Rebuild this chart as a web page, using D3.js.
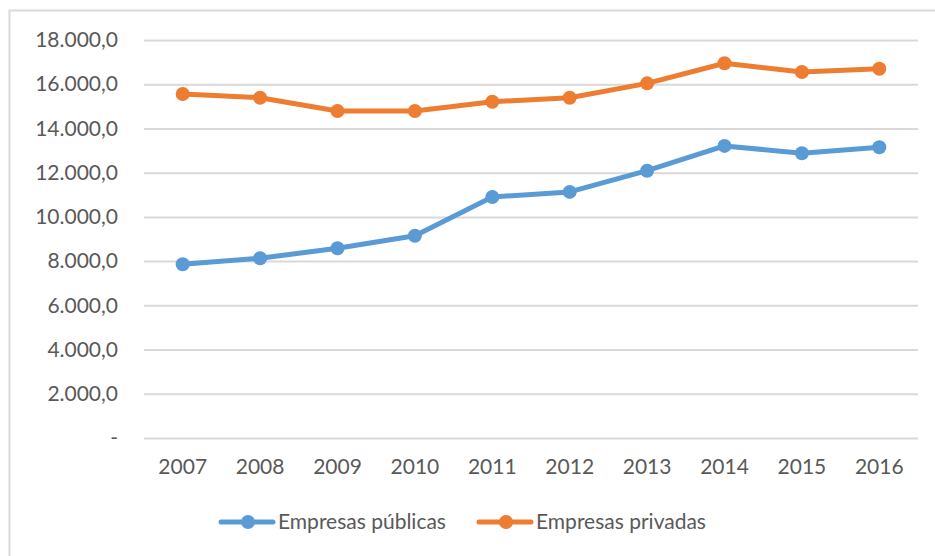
<!DOCTYPE html>
<html>
<head>
<meta charset="utf-8">
<script src="https://cdn.jsdelivr.net/npm/d3@7"></script>
<style>
  html, body { margin: 0; padding: 0; background: #fff; }
  svg { display: block; font-family: Lato, "Open Sans", sans-serif; }
</style>
</head>
<body>
<div id="chart"></div>
<script>
const years = ["2007", "2008", "2009", "2010", "2011", "2012", "2013", "2014", "2015", "2016"];
const publicas = [7860, 8130, 8580, 9150, 10900, 11130, 12090, 13210, 12880, 13150];
const privadas = [15560, 15390, 14790, 14790, 15210, 15390, 16040, 16950, 16550, 16700];
const yTicks = [0, 2000, 4000, 6000, 8000, 10000, 12000, 14000, 16000, 18000];
const seriesNames = ["Empresas públicas", "Empresas privadas"];
const seriesColors = ["#5B9BD5", "#ED7D31"];

const width = 935;
const height = 556;
const margin = { left: 144, right: 17, top: 40, bottom: 118 };
const fontSize = 21;

const svg = d3.select("#chart")
  .append("svg")
  .attr("width", width)
  .attr("height", height);

// chart frame (right and bottom edges fall outside the picture)
svg.append("rect")
  .attr("x", 9.5)
  .attr("y", 10.5)
  .attr("width", 960)
  .attr("height", 600)
  .attr("fill", "none")
  .attr("stroke", "#D9D9D9")
  .attr("stroke-width", 2);

const x = d3.scaleBand()
  .domain(years)
  .range([margin.left, width - margin.right]);

const y = d3.scaleLinear()
  .domain([0, 18000])
  .range([height - margin.bottom, margin.top]);

const fmt = (d) => d === 0 ? "-" : d3.format(",.1f")(d).replace(/,/g, "#").replace(".", ",").replace(/#/g, ".");

// gridlines + y labels
const yAxis = svg.append("g")
  .attr("transform", `translate(${margin.left}, 0)`)
  .call(d3.axisLeft(y)
    .tickValues(yTicks)
    .tickSize(-(width - margin.left - margin.right))
    .tickPadding(26)
    .tickFormat(fmt));

yAxis.select(".domain").remove();
yAxis.selectAll(".tick line").attr("stroke", "#D9D9D9").attr("stroke-width", 2);
yAxis.selectAll(".tick text")
  .attr("fill", "#595959")
  .attr("font-size", fontSize)
  .attr("font-family", "Lato, sans-serif");

// x labels
const xAxis = svg.append("g")
  .attr("transform", `translate(0, ${height - margin.bottom})`)
  .call(d3.axisBottom(x).tickSize(0).tickPadding(21));

xAxis.select(".domain").remove();
xAxis.selectAll(".tick text")
  .attr("fill", "#595959")
  .attr("font-size", fontSize)
  .attr("font-family", "Lato, sans-serif");

const cx = (d, i) => x(years[i]) + x.bandwidth() / 2;

const line = d3.line()
  .x(cx)
  .y((d) => y(d));

[publicas, privadas].forEach((values, s) => {
  svg.append("path")
    .datum(values)
    .attr("fill", "none")
    .attr("stroke", seriesColors[s])
    .attr("stroke-width", 5)
    .attr("stroke-linejoin", "round")
    .attr("d", line);

  svg.append("g").selectAll("circle").data(values).enter()
    .append("circle")
    .attr("cx", cx)
    .attr("cy", (d) => y(d))
    .attr("r", 7)
    .attr("fill", seriesColors[s]);
});

// legend
const legendX = [221, 479];
const legendY = 522;
seriesNames.forEach((name, s) => {
  const g = svg.append("g").attr("transform", `translate(${legendX[s]}, ${legendY})`);
  g.append("line")
    .attr("x1", 0).attr("x2", 52)
    .attr("y1", 0).attr("y2", 0)
    .attr("stroke", seriesColors[s])
    .attr("stroke-width", 5)
    .attr("stroke-linecap", "round");
  g.append("circle")
    .attr("cx", 27).attr("cy", 0).attr("r", 7)
    .attr("fill", seriesColors[s]);
  g.append("text")
    .attr("x", 57)
    .attr("y", 0)
    .attr("dy", "0.35em")
    .attr("fill", "#595959")
    .attr("font-size", fontSize)
    .text(name);
});
</script>
</body>
</html>
